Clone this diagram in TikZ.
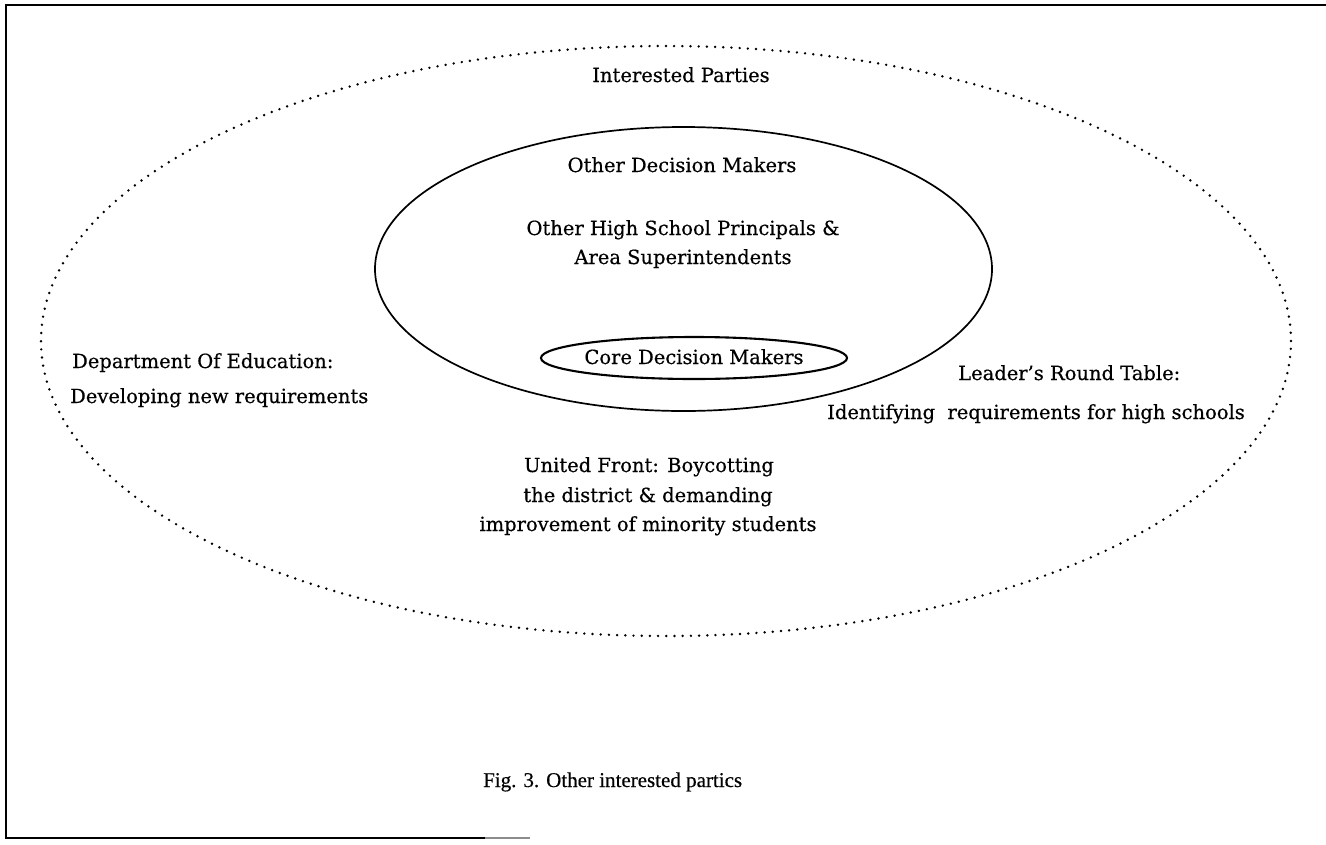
\documentclass[tikz,border=0pt]{standalone}
\usepackage{fontspec}
\setmainfont{DejaVu Serif}
\newfontfamily\labelfont[FakeBold=0.5]{DejaVu Serif}
\newfontfamily\captionfont[FakeBold=0.4]{Liberation Serif}
\usetikzlibrary{shapes.geometric}
\begin{document}
\begin{tikzpicture}[x=1pt,y=-1pt,
  frameline/.style={line width=2pt},
  dotring/.style={ellipse, draw, line width=2.7pt, line cap=round,
    dash pattern=on 0pt off 8.2pt, inner sep=0pt, outer sep=0pt},
  solidring/.style={ellipse, draw, line width=1.7pt, inner sep=0pt, outer sep=0pt},
  lbl/.style={font=\labelfont\fontsize{19.5}{24}\selectfont, inner sep=0pt, anchor=base},
  lblw/.style={lbl, anchor=base west},
  caption/.style={font=\captionfont\fontsize{21}{25}\selectfont, inner sep=0pt, anchor=base west}]
\useasboundingbox (0,0) rectangle (1326,844);
\fill[white] (0,0) rectangle (1326,844);

% open frame: top, left and part of the bottom edge
\coordinate (tr) at (1326,5);
\coordinate (tl) at (6,5);
\coordinate (bl) at (6,838);
\coordinate (br) at (485,838);
\coordinate (bf) at (530,838);
\draw[frameline] (tr) -- (tl) -- (bl) -- (br);
\draw[line width=1.2pt, black!45] (br) -- (bf);

% rings
\node[dotring, minimum width=1250pt, minimum height=590pt] (parties) at (666,341) {};
\node[solidring, minimum width=617pt, minimum height=284pt] (others) at (683.5,269) {};
\node[solidring, line width=2.1pt, minimum width=306pt, minimum height=42pt] (core) at (694,358) {};

% labels
\node[lbl] (tparties) at (681,82) {Interested Parties};
\node[lbl] (tothers) at (682,172) {Other Decision Makers};
\node[lbl] (tprin1) at (683,235) {Other High School Principals \&};
\node[lbl] (tprin2) at (683,264) {Area Superintendents};
\node[lbl] (tcore) at (694,364) {Core Decision Makers};

\node[lblw] (doe1) at (72,368) {Department Of Education:};
\node[lblw] (doe2) at (70,403) {Developing new requirements};

\node[lblw] (lrt1) at (958,380) {Leader’s Round Table:};
\node[lblw] (lrt2) at (827,419) {Identifying\ \ requirements for high schools};

\node[lbl] (uf1) at (649,472) {United Front: Boycotting};
\node[lbl] (uf2) at (648,502) {the district \& demanding};
\node[lbl] (uf3) at (648,531) {improvement of minority students};

\node[caption] (fig) at (483,787) {Fig. 3. Other interested partics};
\end{tikzpicture}
\end{document}
